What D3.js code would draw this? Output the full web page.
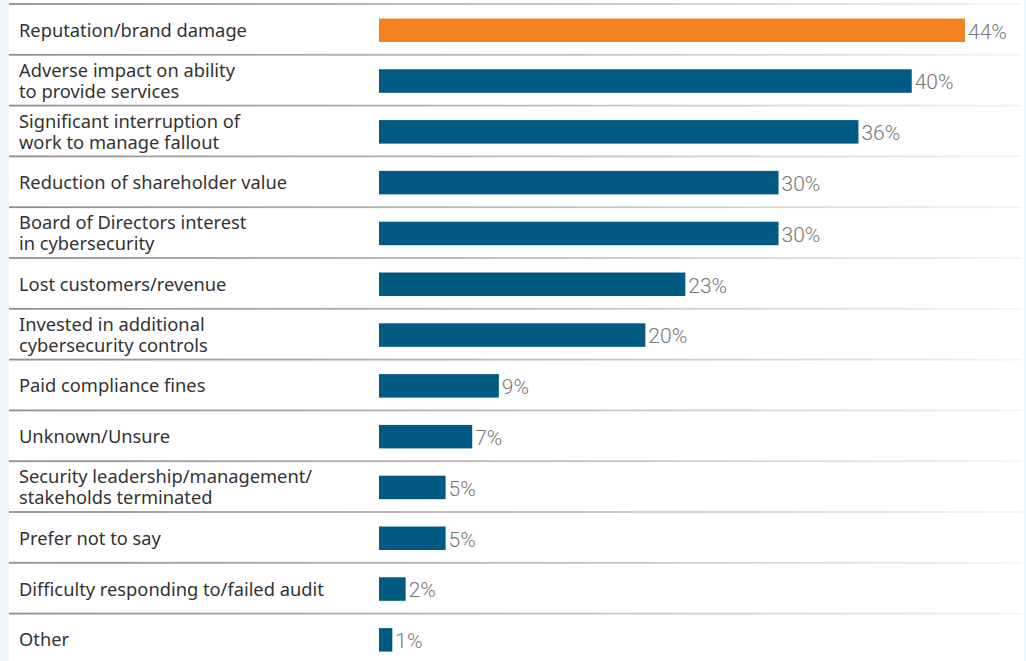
<!DOCTYPE html>
<html>
<head>
<meta charset="utf-8">
<script src="https://cdn.jsdelivr.net/npm/d3@7"></script>
<style>
  html, body { margin: 0; padding: 0; background: #eef5fb; }
  svg { display: block; }
</style>
</head>
<body>
<svg id="chart" width="1026" height="661"></svg>
<script>
// Consequences of a cyber incident, share of respondents (%)
const categories = [
  ["Reputation/brand damage"],
  ["Adverse impact on ability", "to provide services"],
  ["Significant interruption of", "work to manage fallout"],
  ["Reduction of shareholder value"],
  ["Board of Directors interest", "in cybersecurity"],
  ["Lost customers/revenue"],
  ["Invested in additional", "cybersecurity controls"],
  ["Paid compliance fines"],
  ["Unknown/Unsure"],
  ["Security leadership/management/", "stakeholds terminated"],
  ["Prefer not to say"],
  ["Difficulty responding to/failed audit"],
  ["Other"]
];
const values = [44, 40, 36, 30, 30, 23, 20, 9, 7, 5, 5, 2, 1];
const highlighted = [true, false, false, false, false, false, false, false, false, false, false, false, false];

const W = 1026, H = 661;
const svg = d3.select("#chart");

// White panel on the pale blue page
svg.append("rect").attr("x", 9).attr("y", 0).attr("width", 1015).attr("height", H).attr("fill", "#ffffff");

const defs = svg.append("defs");
const grad = defs.append("linearGradient").attr("id", "rule").attr("x1", "0").attr("x2", "1").attr("y1", "0").attr("y2", "0");
grad.append("stop").attr("offset", "0%").attr("stop-color", "#8f8f8f");
grad.append("stop").attr("offset", "55%").attr("stop-color", "#c0c0c0");
grad.append("stop").attr("offset", "100%").attr("stop-color", "#f4f4f4");

const idx = d3.range(categories.length);
const y = d3.scaleBand().domain(idx).range([4, 4 + 50.8 * categories.length]).paddingInner(0).paddingOuter(0);
const x = d3.scaleLinear().domain([0, 44]).range([379, 965]);

const rows = svg.selectAll("g.row").data(idx).join("g").attr("class", "row")
  .attr("transform", i => `translate(0,${y(i)})`);

// Row separators
rows.append("rect")
  .attr("x", 9).attr("y", -0.9).attr("width", 1013).attr("height", 1.8)
  .attr("fill", "url(#rule)");

// Category labels (one or two lines, centred in the row)
rows.append("text")
  .attr("x", 19)
  .attr("font-family", "'Noto Sans', 'Open Sans', sans-serif")
  .attr("font-size", 18.3)
  .attr("fill", "#333333")
  .each(function(i) {
    const lines = categories[i];
    const t = d3.select(this);
    const cy = y.bandwidth() / 2 + 1;
    const lh = 21;
    const start = cy - (lines.length - 1) * lh / 2;
    lines.forEach((s, k) => {
      t.append("tspan").attr("x", 19).attr("y", start + k * lh).attr("dy", "0.35em").text(s);
    });
  });

// Bars
const barH = 23.5;
rows.append("rect")
  .attr("x", x(0))
  .attr("y", 14.5)
  .attr("width", i => x(values[i]) - x(0))
  .attr("height", barH)
  .attr("fill", i => highlighted[i] ? "#f28323" : "#005a82");

// Value labels
rows.append("text")
  .attr("x", i => x(values[i]) + 3)
  .attr("y", 14.5 + barH / 2 + 1)
  .attr("dy", "0.35em")
  .attr("font-family", "Roboto, sans-serif")
  .attr("font-weight", 300)
  .attr("font-size", 21)
  .attr("fill", "#777777")
  .text(i => values[i] + "%");
</script>
</body>
</html>
